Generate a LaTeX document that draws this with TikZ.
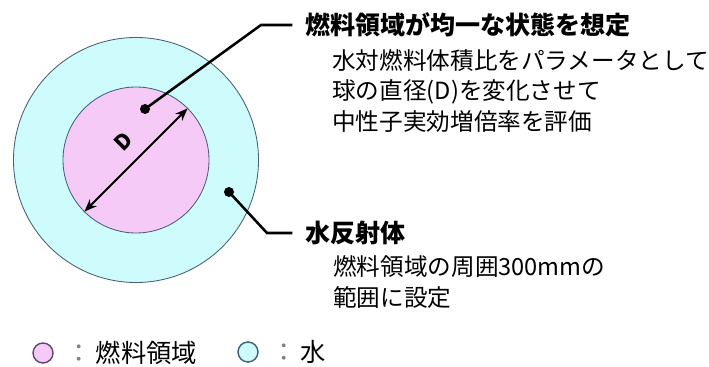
\documentclass[tikz,border=0pt]{standalone}
\usepackage{fontspec}
\setmainfont{Noto Sans CJK JP}
\usetikzlibrary{arrows.meta}
\usetikzlibrary{positioning}

\definecolor{fuelpink}{RGB}{246,202,246}
\definecolor{waterblue}{RGB}{206,252,252}
\definecolor{rimgray}{RGB}{70,95,115}
\definecolor{fuelrim}{RGB}{95,70,110}
\definecolor{waterrim}{RGB}{55,100,115}

\tikzset{
  leader/.style={line width=1.8pt, shorten >=9pt},
  headtext/.style={font=\fontsize{17.8}{20}\selectfont\bfseries, inner sep=0pt},
  bodytext/.style={font=\fontsize{16.8}{22}\selectfont, align=left, inner sep=0pt},
  keytext/.style={font=\fontsize{18}{20}\selectfont, inner sep=0pt},
}

\begin{document}
\begin{tikzpicture}[x=0.025cm, y=-0.025cm]
            \useasboundingbox (0,0) rectangle (709,367);

            \coordinate (C) at (136,160);

            % water reflector and fuel sphere
            \draw[rimgray, fill=waterblue, line width=0.6pt] (C) circle (122.5);
            \draw[rimgray, fill=fuelpink, line width=0.6pt] (C) circle (73);

            % diameter D
            \coordinate (Dlo) at ([shift={(135:73)}]C);
            \coordinate (Dhi) at ([shift={(-45:73)}]C);
            \draw[{Stealth[length=9pt,width=7pt]}-{Stealth[length=9pt,width=7pt]}, line width=1.3pt] (Dlo) -- (Dhi);
            \node[rotate=45, font=\fontsize{15}{15}\selectfont\bfseries, inner sep=0pt] (Dlab) at (123,142) {D};

            % fuel region label
            \coordinate (fueldot) at (145,109);
            \coordinate (fuelbend) at (261,25);
            \node[headtext, anchor=west] (fuelhead) at (305,25) {燃料領域が均一な状態を想定};
            \node[bodytext, anchor=west] (fuelbody) at (332,91) {水対燃料体積比をパラメータとして\\球の直径(D)を変化させて\\中性子実効増倍率を評価};
            \fill (fueldot) circle (5);
            \draw[leader] (fueldot) -- (fuelbend) -- (fuelhead.west);

            % water reflector label
            \coordinate (waterdot) at (229,192);
            \coordinate (waterbend) at (267,233);
            \node[headtext, anchor=west] (waterhead) at (305,233) {水反射体};
            \node[bodytext, anchor=west] (waterbody) at (333,282) {燃料領域の周囲300mmの\\範囲に設定};
            \fill (waterdot) circle (5);
            \draw[leader] (waterdot) -- (waterbend) -- (waterhead.west);

            % legend
            \draw[fuelrim, fill=fuelpink, line width=1pt] (43,353) circle (10);
            \node[keytext, anchor=west] (fuelkey) at (66,353) {{\color{gray}：}\hspace{3pt}燃料領域};
            \draw[waterrim, fill=waterblue, line width=1pt] (248,352) circle (10);
            \node[keytext, anchor=west] (waterkey) at (271,352) {{\color{gray}：}\hspace{3pt}水};
        \end{tikzpicture}
\end{document}
